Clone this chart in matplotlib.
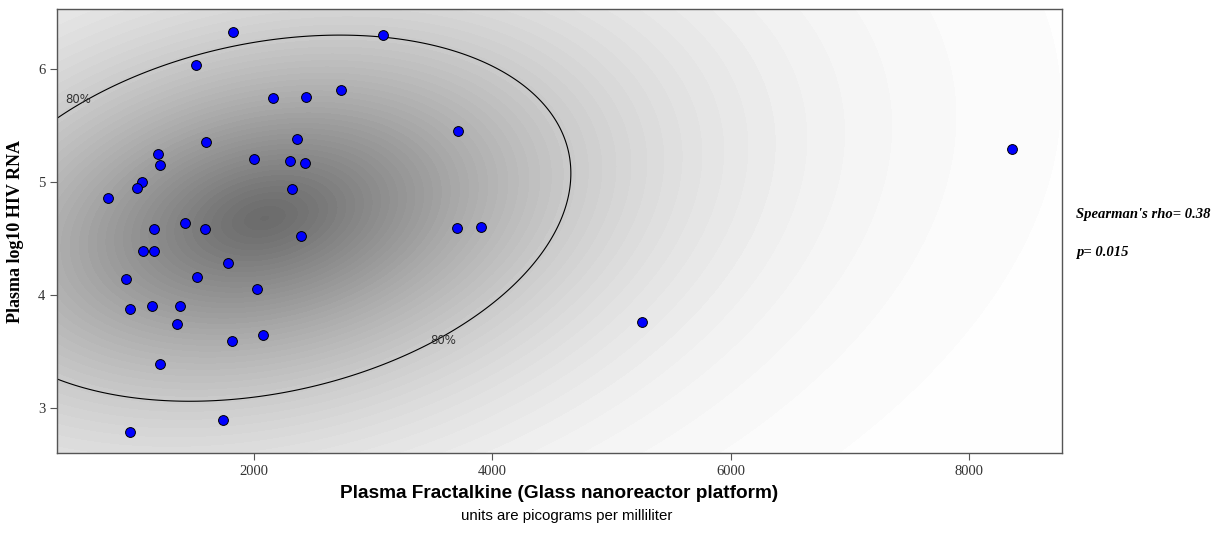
import numpy as np
import matplotlib
matplotlib.use('Agg')
from matplotlib import pyplot as plt

# Data
fractalkine = [1821, 3079, 1514, 2727, 2162, 2436, 1597, 2363, 1197, 1214,
               2003, 2302, 2425, 1058, 1021, 778, 2319, 1421, 1161, 1589,
               2394, 1072, 1161, 1779, 927, 1522, 2025, 958, 1147, 1382,
               1357, 2078, 1813, 1214, 1738, 958, 3711, 3702, 3901, 5259, 8356]
log_rna = [6.33, 6.30, 6.04, 5.81, 5.74, 5.75, 5.35, 5.38, 5.25, 5.15,
           5.20, 5.19, 5.17, 5.00, 4.95, 4.86, 4.94, 4.64, 4.58, 4.58,
           4.52, 4.39, 4.39, 4.28, 4.14, 4.16, 4.05, 3.88, 3.90, 3.90,
           3.74, 3.65, 3.59, 3.39, 2.89, 2.79, 5.45, 4.59, 4.60, 3.76, 5.29]
x_ticks = [2000, 4000, 6000, 8000]
y_ticks = [3, 4, 5, 6]
rho_text = "Spearman's rho= 0.38"
p_text = "p= 0.015"

# density ellipse as drawn in the picture (centre, spreads, correlation)
ell_mean = (2091, 4.68)
ell_sd = (1431, 0.903)
ell_rho = 0.245
ell_level = 0.8

x = np.array(fractalkine, dtype=float)
y = np.array(log_rna, dtype=float)

fig = plt.figure(figsize=(12.26, 5.37), dpi=100)
ax = fig.add_axes([0.0465, 0.156, 0.8195, 0.827])
xlim = (348, 8776)
ylim = (2.60, 6.53)

cov = np.array([[ell_sd[0]**2, ell_rho * ell_sd[0] * ell_sd[1]],
                [ell_rho * ell_sd[0] * ell_sd[1], ell_sd[1]**2]])
inv = np.linalg.inv(cov)
gx, gy = np.meshgrid(np.linspace(*xlim, 500), np.linspace(*ylim, 300))
dx, dy = gx - ell_mean[0], gy - ell_mean[1]
r2 = inv[0, 0] * dx**2 + 2 * inv[0, 1] * dx * dy + inv[1, 1] * dy**2
r = np.sqrt(r2)

# grey level falls off with the distance from the centre
shade = 1 - 0.58 * np.exp(-(r / 1.775)**1.4)
ax.contourf(gx, gy, shade, levels=np.linspace(0.41, 1.0, 50), cmap='gray',
            vmin=0, vmax=1, zorder=0)
ax.contour(gx, gy, r2, levels=[-2 * np.log(1 - ell_level)], colors='black',
           linewidths=0.8, zorder=1)
ax.text(524, 5.73, '80%', fontsize=8.5, color='#333333', ha='center', va='center')
ax.text(3585, 3.60, '80%', fontsize=8.5, color='#333333', ha='center', va='center')

ax.scatter(x, y, s=50, c='#0000ff', edgecolors='black', linewidths=0.7, zorder=3)

ax.set_xlim(xlim)
ax.set_ylim(ylim)
ax.set_xticks(x_ticks)
ax.set_yticks(y_ticks)
for lab in ax.get_xticklabels() + ax.get_yticklabels():
    lab.set_family('Liberation Serif')
    lab.set_fontsize(10.5)
    lab.set_color('#333333')
ax.tick_params(length=5, color='#555555', width=0.8)
for sp in ax.spines.values():
    sp.set_color('#555555')
    sp.set_linewidth(1.0)

ax.set_ylabel('Plasma log10 HIV RNA', family='Liberation Serif', fontweight='bold',
              fontsize=13, labelpad=10)
ax.set_xlabel('Plasma Fractalkine (Glass nanoreactor platform)',
              family='Liberation Sans', fontweight='bold', fontsize=13.7, labelpad=5)
fig.text(0.4625, 0.032, 'units are picograms per milliliter', family='Liberation Sans',
         fontsize=10.8, ha='center')

fig.text(0.878, 0.594, rho_text, family='Liberation Serif', fontweight='bold',
         style='italic', fontsize=10.5)
fig.text(0.878, 0.524, p_text, family='Liberation Serif', fontweight='bold',
         style='italic', fontsize=10.5)

plt.savefig('out.png', dpi=100)
plt.close()
